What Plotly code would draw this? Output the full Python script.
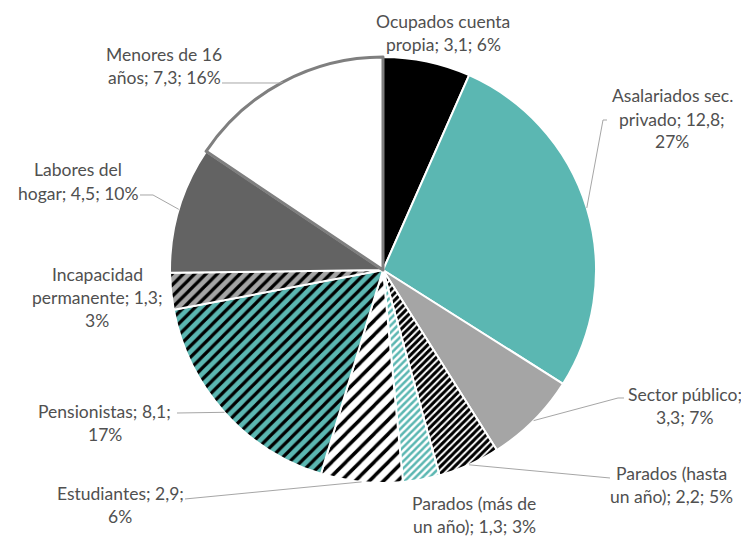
import math
import plotly.graph_objects as go

W, H = 749, 538
OFF = 8  # margen por defecto del <body> de la pagina

# datos (millones de personas y % sobre el total)
categorias = ["Ocupados cuenta propia", "Asalariados sec. privado", "Sector público",
              "Parados (hasta un año)", "Parados (más de un año)", "Estudiantes",
              "Pensionistas", "Incapacidad permanente", "Labores del hogar",
              "Menores de 16 años"]
valores = [3.1, 12.8, 3.3, 2.2, 1.3, 2.9, 8.1, 1.3, 4.5, 7.3]
porcentajes = [6, 27, 7, 5, 3, 6, 17, 3, 10, 16]

# texto de las etiquetas, con los saltos de linea del original
etiquetas = [
    ["Ocupados cuenta", "propia; 3,1; 6%"],
    ["Asalariados sec.", "privado; 12,8;", "27%"],
    ["Sector público;", "3,3; 7%"],
    ["Parados (hasta", "un año); 2,2; 5%"],
    ["Parados (más de", "un año); 1,3; 3%"],
    ["Estudiantes; 2,9;", "6%"],
    ["Pensionistas; 8,1;", "17%"],
    ["Incapacidad", "permanente; 1,3;", "3%"],
    ["Labores del", "hogar; 4,5; 10%"],
    ["Menores de 16", "años; 7,3; 16%"],
]

# estilos de los sectores
colores = ["#000000", "#5BB7B2", "#A5A5A5", "#FFFFFF", "#FFFFFF",
           "#FFFFFF", "#5BB7B2", "#A5A5A5", "#636363", "#FFFFFF"]
tramas = ["", "", "", "/", "/", "/", "/", "/", "", ""]
trama_color = ["#000000", "#000000", "#000000", "#000000", "#5BB7B2",
               "#000000", "#000000", "#000000", "#000000", "#000000"]
trama_size = [8, 8, 8, 5, 5, 10, 8, 8, 8, 8]
trama_solidez = [0.4, 0.4, 0.4, 0.6, 0.5, 0.35, 0.4, 0.4, 0.4, 0.4]
borde_color = ["white"] * 9 + ["#7F7F7F"]
borde_ancho = [2] * 9 + [3]

# geometria (pixeles de la imagen)
CX, CY, R = 383, 270, 213
pos_etiqueta = [(443, 33.5), (672, 119), (685, 405.5), (671, 485), (474, 515),
                (120, 505), (105, 423), (97, 297), (78, 181.5), (164, 66.5)]
lineas_guia = [None, [(603, 120), (607, 120)], [(618, 398), (624, 398)],
               [(610, 478)], None, [(185, 499)], [(177, 413)], None,
               [(153, 195), (140, 195)], [(280, 83), (222, 83)]]
INTERLINEA = 23

FW, FH = W - OFF, H - OFF


def px(x, y):
    return (x - OFF) / FW, 1 - (y - OFF) / FH


dx0, dy1 = px(CX - R, CY - R)
dx1, dy0 = px(CX + R, CY + R)

fig = go.Figure(go.Pie(
    labels=categorias, values=valores, sort=False, direction="clockwise",
    rotation=0, textinfo="none", hoverinfo="label+value+percent",
    marker=dict(colors=colores,
                line=dict(color=borde_color, width=borde_ancho),
                pattern=dict(shape=tramas, fgcolor=trama_color, bgcolor=colores,
                             size=trama_size, solidity=trama_solidez)),
    domain=dict(x=[dx0, dx1], y=[dy0, dy1]),
    showlegend=False,
))

total = sum(valores)
acum = 0
for i, v in enumerate(valores):
    ang = 2 * math.pi * (acum + v / 2) / total
    acum += v
    ex, ey = CX + R * math.sin(ang), CY - R * math.cos(ang)
    if lineas_guia[i]:
        pts = [(ex, ey)] + lineas_guia[i]
        path = "M " + " L ".join("%f,%f" % px(x, y) for x, y in pts)
        fig.add_shape(type="path", path=path, xref="paper", yref="paper",
                      line=dict(color="#A6A6A6", width=1))
    lx, ly = pos_etiqueta[i]
    n = len(etiquetas[i])
    for k, t in enumerate(etiquetas[i]):
        yy = ly + (k - (n - 1) / 2) * INTERLINEA
        x0, y0 = px(lx, yy)
        fig.add_annotation(x=x0, y=y0, xref="paper", yref="paper", text=t,
                           showarrow=False, xanchor="center", yanchor="middle",
                           font=dict(family="Lato", size=17.5, color="#505050"))

fig.update_layout(width=FW, height=FH, margin=dict(l=0, r=0, t=0, b=0),
                  paper_bgcolor="white", plot_bgcolor="white")
fig.write_html("out.html")
